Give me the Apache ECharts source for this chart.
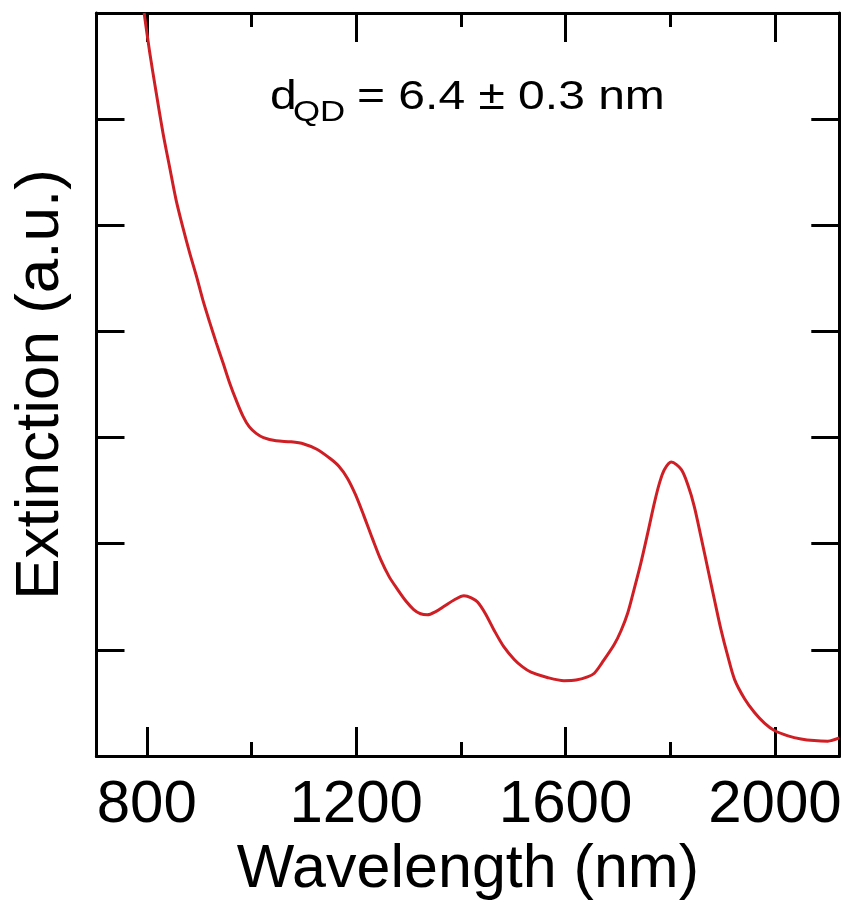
<!DOCTYPE html>
<html>
<head>
<meta charset="utf-8">
<script src="https://cdn.jsdelivr.net/npm/echarts@6/dist/echarts.min.js"></script>
<style>html,body{margin:0;padding:0;background:#fff}#c{width:848px;height:902px}</style>
</head>
<body>
<div id="c"></div>
<script>
// Data
const wavelength = [795, 805, 818, 831, 844, 856, 869, 882, 895, 907, 920, 933, 946, 958, 971, 984, 996, 1009, 1023, 1047, 1075, 1100, 1125, 1151, 1167, 1183, 1199, 1215, 1231, 1247, 1263, 1279, 1295, 1310, 1323, 1336, 1352, 1368, 1387, 1406, 1420, 1432, 1447, 1463, 1482, 1502, 1518, 1534, 1565, 1597, 1620, 1642, 1655, 1670, 1693, 1706, 1719, 1731, 1744, 1757, 1770, 1780, 1789, 1802, 1821, 1834, 1846, 1859, 1872, 1885, 1897, 1910, 1923, 1942, 1961, 1980, 1999, 2025, 2050, 2075, 2101, 2123];
const extinction = [7.0, 6.65, 6.25, 5.87, 5.54, 5.24, 4.98, 4.74, 4.52, 4.30, 4.09, 3.89, 3.70, 3.52, 3.35, 3.20, 3.10, 3.04, 3.00, 2.97, 2.96, 2.94, 2.89, 2.80, 2.73, 2.62, 2.46, 2.26, 2.05, 1.85, 1.69, 1.57, 1.46, 1.38, 1.34, 1.33, 1.36, 1.41, 1.47, 1.51, 1.49, 1.45, 1.34, 1.19, 1.03, 0.91, 0.84, 0.79, 0.74, 0.71, 0.715, 0.745, 0.78, 0.88, 1.05, 1.18, 1.35, 1.57, 1.82, 2.10, 2.39, 2.58, 2.70, 2.77, 2.70, 2.55, 2.35, 2.06, 1.76, 1.46, 1.19, 0.94, 0.72, 0.54, 0.41, 0.31, 0.24, 0.19, 0.16, 0.145, 0.14, 0.17];
const majorTicks = [800, 1200, 1600, 2000];
const minorTicks = [1000, 1400, 1800];
const xName = 'Wavelength (nm)';
const yName = 'Extinction (a.u.)';

const FONT = "'Liberation Sans', Arial, Helvetica, sans-serif";
const XMIN = 704, XMAX = 2123;
const lineW = 3;

function xAx(pos, ticks, len, withLabel, withName) {
  return {
    type: 'value', position: pos, min: XMIN, max: XMAX,
    axisLine: { show: true, onZero: false, lineStyle: { color: '#000', width: lineW } },
    axisTick: { show: true, inside: true, length: len, customValues: ticks, lineStyle: { color: '#000', width: lineW } },
    axisLabel: withLabel ? { show: true, customValues: ticks, formatter: v => String(v), fontSize: 60, color: '#000', fontFamily: FONT, margin: 19 } : { show: false },
    splitLine: { show: false },
    name: withName ? xName : '',
    nameLocation: 'middle', nameGap: 78,
    nameTextStyle: { fontSize: 61, color: '#000', fontFamily: FONT }
  };
}
function yAx(pos, withName) {
  return {
    type: 'value', position: pos, min: 0, max: 7, interval: 1,
    axisLine: { show: true, onZero: false, lineStyle: { color: '#000', width: lineW } },
    axisTick: { show: true, inside: true, length: 28, lineStyle: { color: '#000', width: lineW } },
    axisLabel: { show: false },
    splitLine: { show: false },
    name: withName ? yName : '',
    nameLocation: 'middle', nameGap: 25,
    nameTextStyle: { fontSize: 62, color: '#000', fontFamily: FONT }
  };
}

const chart = echarts.init(document.getElementById('c'), null, { renderer: 'canvas' });
chart.setOption({
  animation: false,
  backgroundColor: '#fff',
  grid: { left: 96.5, right: 8.7, top: 13, bottom: 146, containLabel: false, outerBoundsMode: 'none' },
  xAxis: [
    xAx('bottom', majorTicks, 29, true, true),
    xAx('bottom', minorTicks, 14, false, false),
    xAx('top', majorTicks, 29, false, false),
    xAx('top', minorTicks, 14, false, false)
  ],
  yAxis: [yAx('left', true), yAx('right', false)],
  series: [{
    type: 'line', xAxisIndex: 0, yAxisIndex: 0,
    data: wavelength.map((w, i) => [w, extinction[i]]),
    showSymbol: false, smooth: 0.3, clip: true,
    lineStyle: { color: '#cf1f25', width: 3 }
  }],
  graphic: [
    { type: 'text', x: 270, y: 98, scaleX: 1.2, style: { text: 'd', x: 0, y: 0, fontSize: 40, fontFamily: FONT, fill: '#000', align: 'left', verticalAlign: 'middle' } },
    { type: 'text', x: 293, y: 113, scaleX: 1.2, style: { text: 'QD', x: 0, y: 0, fontSize: 29, fontFamily: FONT, fill: '#000', align: 'left', verticalAlign: 'middle' } },
    { type: 'text', x: 357, y: 98, scaleX: 1.2, style: { text: '= 6.4 ± 0.3 nm', x: 0, y: 0, fontSize: 40, fontFamily: FONT, fill: '#000', align: 'left', verticalAlign: 'middle' } }
  ]
});
</script>
</body>
</html>
